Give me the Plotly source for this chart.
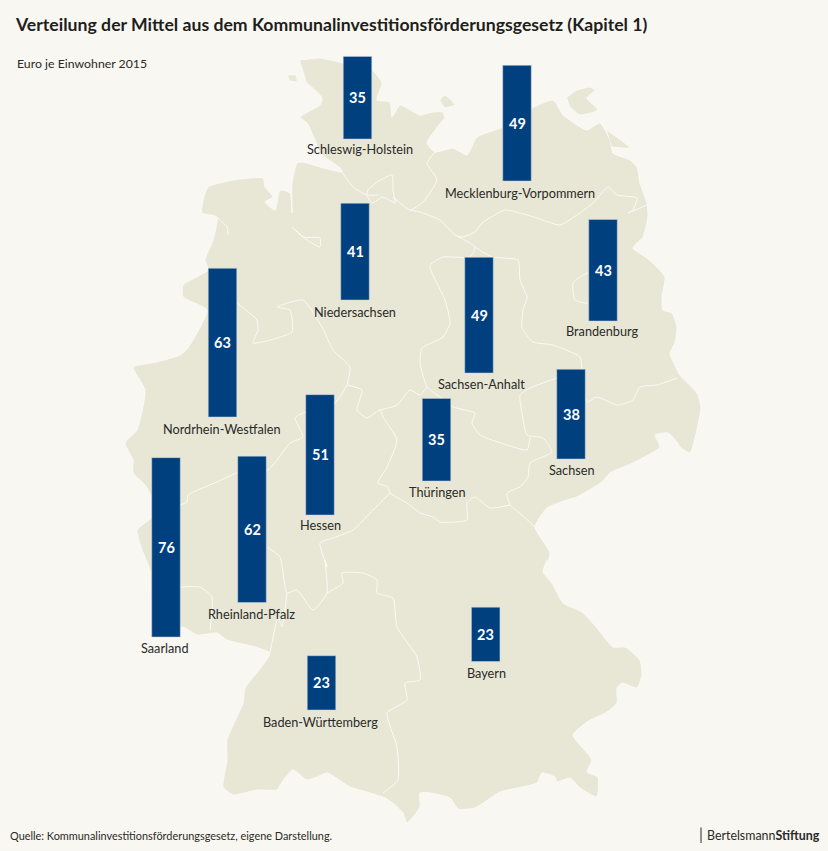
import plotly.graph_objects as go

# ---------- chart data ----------
states = ["Schleswig-Holstein", "Mecklenburg-Vorpommern", "Niedersachsen", "Nordrhein-Westfalen",
          "Hessen", "Sachsen-Anhalt", "Brandenburg", "Sachsen", "Thüringen", "Saarland",
          "Rheinland-Pfalz", "Baden-Württemberg", "Bayern"]
euro_per_head = [35, 49, 41, 63, 51, 49, 43, 38, 35, 76, 62, 23, 23]

# map anchor of each state's bar / label (picture coordinates)
bar_x = [357.5, 517, 355, 222.5, 320, 479, 603, 571, 436.5, 166, 252, 321.5, 485.7]
bar_bottom = [139, 181, 300, 417, 515, 373, 321, 459, 481, 637, 602.5, 710, 661.5]
label_x = [360, 519.5, 355, 222, 320, 481, 602, 572, 437.5, 165, 251, 320.5, 486]
label_y = [149, 193, 312, 429, 525, 384, 331, 470, 492, 648, 614, 722, 673]

title = "Verteilung der Mittel aus dem Kommunalinvestitionsförderungsgesetz (Kapitel 1)"
subtitle = "Euro je Einwohner 2015"
source = "Quelle: Kommunalinvestitionsförderungsgesetz, eigene Darstellung."

# ---------- base map outline ----------
germany_x = [300,320,343,372,382,377,390,392,400,420,433,443,445,443,427,435,453,467,477,503,532,553,563,577,587,
             600,610,613,630,637,640,647,648,643,633,647,665,662,663,672,677,675,670,680,697,701,697,690,680,677,668,
             655,660,633,610,602,577,567,547,535,550,545,547,543,552,563,582,597,613,625,640,642,637,622,617,617,607,
             587,573,592,587,598,597,580,570,557,555,542,537,500,475,458,450,430,420,420,407,403,393,383,370,350,327,
             317,307,293,282,277,257,233,223,227,227,243,245,263,270,255,227,217,197,183,165,152,150,142,137,152,152,
             145,133,133,125,137,145,133,157,180,188,207,183,183,208,205,213,217,202,203,208,233,263,265,273,265,275,
             280,290,292,292,297,303,320,342,340,320,315,307,300,320,322,307]
germany_y = [60,58,63,70,83,100,102,117,105,115,112,112,118,120,143,152,148,155,137,127,108,100,115,125,130,
             123,140,153,160,167,183,203,217,237,248,258,277,297,310,313,327,343,353,375,393,407,430,453,447,442,433,
             435,447,463,473,482,497,500,508,527,553,570,560,572,583,603,612,628,647,647,660,675,688,683,688,703,712,
             722,735,760,772,777,797,788,778,782,777,773,783,792,808,809,798,793,793,807,823,813,803,797,793,787,773,
             777,780,770,782,790,790,795,787,760,740,703,688,665,653,647,640,633,635,627,630,610,570,550,530,517,498,
             485,473,460,443,430,390,367,362,355,348,310,297,285,270,260,240,217,213,200,187,180,178,187,197,202,210,
             190,193,213,183,163,162,167,172,168,153,140,123,117,105,98,83]

rugen_x = [567,577,590,595,587,598,580,570]
rugen_y = [97,90,87,90,98,110,115,107]
usedom_x = [607,630,612]
usedom_y = [130,148,147]
fehmarn_x = [440,445,455,445]
fehmarn_y = [100,95,105,108]
foehr_x = [288,296,297,290]
foehr_y = [75,75,82,81]

# ---------- internal borders ----------
borders = [
    ([342,353,367,378], [172,187,195,195]),
    ([367,368,377,392,393,395,383,372,367], [195,190,182,175,190,203,197,203,195]),
    ([435,427,437,423,410,393], [152,163,180,202,210,197]),
    ([410,420,440,455,463,475,482,505,520,537,560,593,608,617,637,633,628,647], [210,212,220,235,237,232,223,210,213,218,225,203,187,195,198,210,213,205]),
    ([455,475,470,443,430,432,445,450,443,422,420,427,440,453,475,472,480,507,527,530], [235,247,257,257,265,273,300,323,337,348,363,387,397,407,413,423,435,445,450,438]),
    ([475,492,518,520,527,523,522,533,553,580,582,587,597,617,633,640,657,677], [247,257,260,280,297,310,328,342,345,357,370,402,397,405,400,387,385,378]),
    ([588,573,575,588,595,588], [273,283,300,303,290,273]),
    ([582,557,530,520,522,527,543,552,530,528,520,507,510,522,535], [370,378,388,395,413,435,438,452,463,477,487,493,505,515,527]),
    ([510,490,475,467,467,440,433,420,407,390,388,378,387,397,383,380,367,357,362,347], [505,508,497,503,520,522,517,513,503,493,487,483,467,440,417,410,418,410,390,385]),
    ([380,397,410,420,427], [410,405,390,395,387]),
    ([390,373,353,333,320,327,325,327,313,297,287,280,267], [493,510,530,538,543,567,560,593,610,590,593,557,547]),
    ([347,350,333,322,303,277,290,292,253,258,257,237], [385,367,350,327,300,307,310,332,343,330,320,303]),
    ([347,335,303,295,303,290,268,237,217,188,187,180], [385,403,413,418,437,443,470,473,482,495,502,505]),
    ([180,200,212,210], [587,587,597,630]),
    ([287,282,278,270], [593,627,617,653]),
    ([327,343,342,363,377,377,393,397,417,420,405,407,387,397,398,383], [593,583,573,573,580,593,598,627,657,680,683,700,713,747,780,793]),
    ([292,303,320,320,307,292], [227,237,238,247,240,227]),
    ([217,227,228], [217,227,235]),
]

BG = "#F9F7F1"
LAND = "#E8E7D6"
BAR = "#00407F"
INK = "#2A2A28"
FONT = "Lato"
PX_PER_EURO = 2.36
BAR_W = 28.5
SOFT = dict(shape="spline", smoothing=0.5)

fig = go.Figure()

for xs, ys in [(germany_x, germany_y), (rugen_x, rugen_y), (usedom_x, usedom_y), (fehmarn_x, fehmarn_y),
               (foehr_x, foehr_y)]:
    fig.add_trace(go.Scatter(x=xs, y=ys, mode="lines", fill="toself", fillcolor=LAND,
                             line=dict(color="#FBFAF5", width=1, **SOFT), hoverinfo="skip", showlegend=False))
for xs, ys in borders:
    fig.add_trace(go.Scatter(x=xs, y=ys, mode="lines", line=dict(color="#FBFAF5", width=1, **SOFT),
                             hoverinfo="skip", showlegend=False))

# bars live on a second axis in euro units, so their lengths come from the values
bases = [(851 - b) / PX_PER_EURO for b in bar_bottom]
fig.add_trace(go.Bar(
    x=bar_x, y=euro_per_head, base=bases,
    width=BAR_W, yaxis="y2", marker=dict(color=BAR, line=dict(color="#C9D3DC", width=0.5)),
    hoverinfo="skip", showlegend=False,
))

annotations = [
    dict(x=lx, y=ly, xref="x", yref="y", text=s, showarrow=False, xanchor="center", yanchor="middle",
         font=dict(family=FONT, size=12.7, color=INK))
    for s, lx, ly in zip(states, label_x, label_y)
]
annotations += [
    dict(x=bx, y=b + v / 2, xref="x", yref="y2", yshift=0, text=f"<b>{v}</b>", showarrow=False,
         xanchor="center", yanchor="middle", font=dict(family=FONT, size=14.5, color="white"))
    for bx, b, v in zip(bar_x, bases, euro_per_head)
]
annotations += [
    dict(x=13, y=24, xref="x", yref="y", text=f"<b>{title}</b>", showarrow=False, xanchor="left", yanchor="middle",
         font=dict(family=FONT, size=17.65, color="#1E1E1C")),
    dict(x=15, y=63, xref="x", yref="y", text=subtitle, showarrow=False, xanchor="left", yanchor="middle",
         font=dict(family=FONT, size=12.3, color=INK)),
    dict(x=8, y=835.5, xref="x", yref="y", text=source, showarrow=False, xanchor="left", yanchor="middle",
         font=dict(family=FONT, size=10.9, color=INK)),
    dict(x=822, y=835.5, xref="x", yref="y", text="Bertelsmann<b>Stiftung</b>", showarrow=False, xanchor="right",
         yanchor="middle", font=dict(family=FONT, size=12.4, color=INK)),
]

fig.update_layout(
    width=828, height=851, autosize=False,
    margin=dict(l=0, r=0, t=0, b=0, pad=0),
    paper_bgcolor=BG, plot_bgcolor=BG,
    font=dict(family=FONT),
    xaxis=dict(range=[0, 828], visible=False, fixedrange=True),
    yaxis=dict(range=[851, 0], visible=False, fixedrange=True),
    yaxis2=dict(range=[0, 851 / PX_PER_EURO], overlaying="y", visible=False, fixedrange=True),
    annotations=annotations,
    shapes=[dict(type="line", xref="x", yref="y", x0=701, x1=701, y0=827.5, y1=843,
                 line=dict(color=INK, width=1))],
)

fig.write_html("out.html", config=dict(displayModeBar=False),
               post_script="document.body.style.margin='0';document.body.style.background='#F9F7F1';")
